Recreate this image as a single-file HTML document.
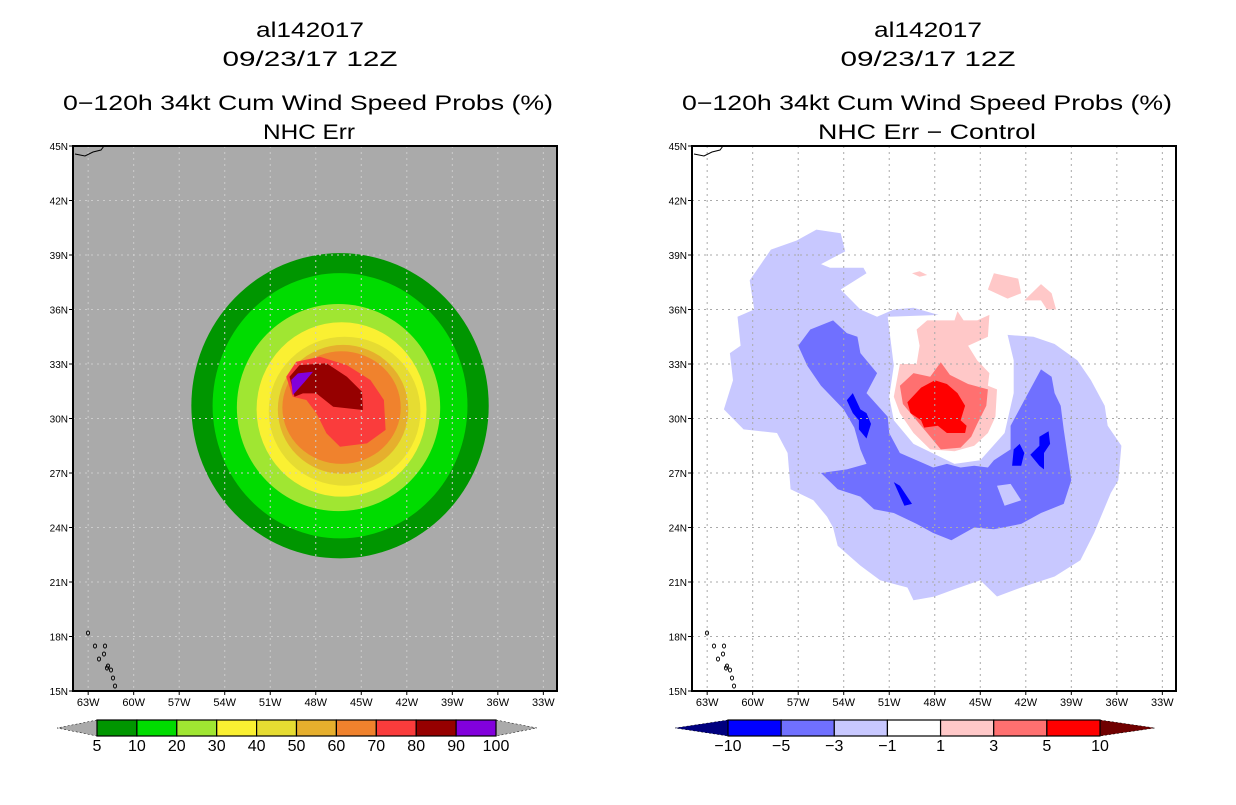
<!DOCTYPE html>
<html><head><meta charset="utf-8"><style>
body{margin:0;background:#fff;}
svg text{font-family:"Liberation Sans",sans-serif;}
</style></head><body>
<svg id="c" width="1236" height="800" xmlns="http://www.w3.org/2000/svg">
<g font-size="21" text-anchor="middle" fill="#000">
<text x="310" y="37" textLength="108" lengthAdjust="spacingAndGlyphs">al142017</text>
<text x="310" y="66" textLength="175" lengthAdjust="spacingAndGlyphs">09/23/17 12Z</text>
<text x="308" y="110" textLength="490" lengthAdjust="spacingAndGlyphs">0−120h 34kt Cum Wind Speed Probs (%)</text>
<text x="309" y="139" textLength="92" lengthAdjust="spacingAndGlyphs">NHC Err</text>
</g>
<g font-size="21" text-anchor="middle" fill="#000">
<text x="928" y="37" textLength="108" lengthAdjust="spacingAndGlyphs">al142017</text>
<text x="928" y="66" textLength="175" lengthAdjust="spacingAndGlyphs">09/23/17 12Z</text>
<text x="927" y="110" textLength="490" lengthAdjust="spacingAndGlyphs">0−120h 34kt Cum Wind Speed Probs (%)</text>
<text x="927" y="139" textLength="218" lengthAdjust="spacingAndGlyphs">NHC Err − Control</text>
</g>
</svg>
<script>
// ---- data ----
const lonTicks=[63,60,57,54,51,48,45,42,39,36,33];
const latTicks=[15,18,21,24,27,30,33,36,39,42,45];
const probLevels=["5","10","20","30","40","50","60","70","80","90","100"];
const probColors=["#009600","#00dc00","#a0e632","#faf032","#e6dc32","#e6af2d","#f0822d","#fa3c3c","#960000","#8200dc"];
const diffLevels=["−10","−5","−3","−1","1","3","5","10"];
const diffColors=["#0000ff","#7070ff","#c8c8ff","#ffffff","#ffc8c8","#ff7070","#ff0000"];
// ellipse contours [lonW, lat, rxDeg, ryDeg] for 5..60%
const probEllipses=[[46.4,30.7,9.8,8.4],[46.4,30.7,8.4,7.3],[46.5,30.6,6.7,5.7],[46.3,30.5,5.6,4.8],[46.1,30.4,5.0,4.1],[46.2,30.5,4.3,3.55],[46.3,30.6,3.9,3.1]];
const prob70=[[49.95,32.3],[49.29,33.12],[47.73,33.4],[45.95,32.94],[44.4,32.12],[43.51,31.02],[43.4,29.37],[44.62,28.63],[46.4,28.45],[47.29,29.18],[47.95,30.28],[48.62,31.02],[49.51,31.2]];
const prob80=[[49.73,32.3],[49.07,32.94],[47.29,33.04],[45.95,32.3],[44.95,31.47],[44.89,30.47],[46.85,30.65],[47.96,31.38],[48.85,31.38],[49.4,31.2]];
const prob90=[[49.62,32.12],[49.18,32.48],[48.18,32.57],[48.73,32.02],[49.51,31.29]];
const diffLight=[[61.9,30.5],[61.3,32.1],[61.5,33.6],[60.8,34.0],[61.0,35.6],[59.9,36.0],[60.2,37.6],[58.8,39.3],[57.1,39.8],[55.8,40.4],[54.2,40.2],[53.9,39.2],[55.5,38.5],[54.9,38.3],[52.7,38.3],[52.5,38.0],[54.2,37.1],[52.9,36.0],[51.8,35.6],[50.7,36.0],[49.4,36.1],[43.2,34.6],[41.5,34.5],[40.1,34.1],[38.6,33.2],[37.7,32.1],[36.8,30.7],[36.6,29.6],[35.7,28.5],[35.9,26.6],[36.4,25.9],[37.5,23.7],[38.4,22.2],[40.1,21.3],[42.3,20.7],[43.9,20.2],[45.0,21.1],[46.7,20.6],[48.0,20.2],[49.4,20.0],[49.8,20.7],[51.6,21.1],[52.9,21.9],[54.4,23.0],[54.7,24.0],[55.1,24.6],[56.0,25.5],[57.5,26.1],[57.7,28.1],[58.4,29.2],[60.6,29.4]];
const diffHole=[[51.1,35.6],[50.7,32.9],[51.0,31.2],[50.7,29.9],[49.4,28.6],[46.7,27.5],[45.0,27.7],[43.4,29.2],[42.8,31.4],[42.8,33.2],[43.2,34.6],[44.5,35.8]];
const diffMedium=[[57.0,34.0],[56.2,34.9],[54.7,35.4],[53.8,34.7],[53.1,34.5],[52.9,33.6],[51.8,32.5],[52.5,31.4],[51.1,30.1],[51.0,29.2],[50.3,28.1],[49.2,27.7],[48.1,27.3],[47.2,27.5],[46.3,27.3],[45.4,27.4],[44.5,27.3],[44.1,27.7],[43.0,28.3],[43.0,29.6],[42.1,31.0],[41.0,32.7],[40.3,32.3],[40.1,31.4],[39.7,30.7],[39.5,29.4],[39.2,27.7],[39.0,26.6],[39.5,25.3],[41.0,24.8],[42.3,24.2],[44.1,23.9],[45.4,24.0],[46.9,23.3],[48.1,23.7],[49.2,24.2],[50.7,24.8],[52.0,25.0],[52.9,25.7],[54.4,26.1],[55.5,27.0],[53.8,27.2],[52.5,27.5],[52.9,28.3],[53.3,29.5],[54.0,30.5],[55.5,31.8],[56.4,32.9]];
const diffLightPatch=[[43.9,26.3],[43.0,26.4],[42.3,25.5],[43.4,25.2]];
const diffDarkA=[[53.8,31.0],[53.4,31.4],[52.9,30.5],[52.5,30.3],[52.2,29.7],[52.5,28.9],[53.0,29.4],[53.0,29.9],[53.4,30.3]];
const diffDarkB=[[50.7,26.5],[50.3,26.3],[49.5,25.3],[50.0,25.2]];
const diffDarkC=[[42.8,28.3],[42.4,28.6],[42.1,28.1],[42.3,27.4],[42.9,27.4]];
const diffDarkD=[[41.1,29.0],[40.5,29.3],[40.4,28.6],[40.8,28.1],[40.8,27.2],[41.1,27.4],[41.7,28.0],[41.1,28.5]];
const diffPink=[[50.3,33.0],[49.2,33.0],[49.0,34.0],[49.2,34.9],[48.5,35.4],[46.7,35.4],[46.5,35.9],[46.1,35.4],[45.2,35.4],[44.4,35.7],[44.5,34.5],[45.8,34.0],[45.2,33.2],[44.4,32.5],[44.5,31.8],[43.9,31.6],[44.0,30.1],[44.5,29.2],[45.4,28.5],[46.7,28.2],[48.3,28.3],[49.4,29.2],[50.3,30.3],[50.7,31.2]];
const diffPinkSpot1=[[44.5,37.1],[44.1,38.0],[42.5,37.7],[42.3,36.9],[43.2,36.6]];
const diffPinkSpot2=[[42.1,36.5],[41.0,37.4],[40.3,36.9],[40.0,36.0],[40.6,36.0],[41.0,36.5]];
const diffPinkSpot3=[[49.5,38.0],[49.0,38.1],[48.5,37.9],[49.0,37.8]];
const diffSalmon=[[50.3,31.8],[49.4,32.5],[48.3,32.3],[47.6,33.1],[47.0,32.4],[45.8,31.9],[44.5,31.6],[44.6,30.7],[45.2,29.7],[45.6,29.0],[46.3,28.4],[47.6,28.3],[48.5,29.2],[49.4,30.1],[50.1,30.8]];
const diffRed=[[49.8,30.9],[48.9,31.7],[48.0,32.1],[47.2,31.9],[46.5,31.4],[46.0,30.7],[46.3,29.9],[45.9,29.6],[46.0,29.2],[47.2,29.2],[47.8,29.6],[48.7,29.5],[48.9,29.9],[49.6,30.3]];
// ---- rendering ----
const NS="http://www.w3.org/2000/svg";
const svg=document.getElementById('c');
const W=484,H=545,PY=146,LON0=64,LON1=32.1,LAT0=15,LAT1=45;
function mk(t,a,p){const e=document.createElementNS(NS,t);for(const k in a)e.setAttribute(k,a[k]);(p||svg).appendChild(e);return e;}
function panel(px,bg,gridCol,name){
  const g=mk('g',{});
  
  
  const X=lon=>px+(LON0-lon)/(LON0-LON1)*W;
  const Y=lat=>PY+H-(lat-LAT0)/(LAT1-LAT0)*H;
  const bgr=mk('rect',{x:px,y:PY,width:W,height:H,fill:bg},g);
  
  
  const poly=(pts,fill,nm)=>{const e=mk('polygon',{points:pts.map(p=>X(p[0]).toFixed(1)+','+Y(p[1]).toFixed(1)).join(' '),fill:fill},g);
    
    return e;};
  const ell=(d,fill,nm)=>{const e=mk('ellipse',{cx:X(d[0]),cy:Y(d[1]),rx:d[2]/(LON0-LON1)*W,ry:d[3]/(LAT1-LAT0)*H,fill:fill},g);
    
    };
  return {g,X,Y,poly,ell,finish(){
    lonTicks.forEach(l=>{const x=X(l);
      mk('line',{x1:x,y1:PY,x2:x,y2:PY+H,stroke:gridCol,'stroke-width':1,'stroke-dasharray':'2,4'},g);
      mk('line',{x1:x,y1:PY+H,x2:x,y2:PY+H+4,stroke:'#000'},g);
      const t=mk('text',{x:x,y:PY+H+15,'font-size':11,'text-anchor':'middle'},g);t.textContent=l+'W';
      
      });
    latTicks.forEach(l=>{const y=Y(l);
      if(l>15&&l<45)mk('line',{x1:px,y1:y,x2:px+W,y2:y,stroke:gridCol,'stroke-width':1,'stroke-dasharray':'2,4'},g);
      mk('line',{x1:px-4,y1:y,x2:px,y2:y,stroke:'#000'},g);
      const t=mk('text',{x:px-5,y:y+4,'font-size':10,'text-anchor':'end'},g);t.textContent=l+'N';
      
      });
    mk('path',{d:`M${px+2} ${PY+8} L${px+12} ${PY+10} L${px+20} ${PY+6} L${px+28} ${PY+4} L${px+31} ${PY}`,fill:'none',stroke:'#000','stroke-width':1},g);
    [[15,487],[22,500],[26,513],[32,500],[31,508],[35,520],[38,524],[40,532],[42,540],[34,522]].forEach(c=>mk('ellipse',{cx:px+c[0],cy:PY+c[1],rx:1.6,ry:2,fill:'none',stroke:'#000','stroke-width':0.9},g));
    const fr=mk('rect',{x:px,y:PY,width:W,height:H,fill:'none',stroke:'#000','stroke-width':2},g);
    
    
  }};
}
const L=panel(73,'#aaaaaa','#cccccc','left-prob-map');
probEllipses.forEach((d,i)=>L.ell(d,probColors[i],'contour-'+probLevels[i]));
L.poly(prob70,probColors[7],'contour-70');
L.poly(prob80,probColors[8],'contour-80');
L.poly(prob90,probColors[9],'contour-90');
L.finish();
const R=panel(692,'#ffffff','#aaaaaa','right-diff-map');
R.poly(diffLight,diffColors[2],'diff-minus1-region');
R.poly(diffHole,'#ffffff','diff-neutral-region');
R.poly(diffMedium,diffColors[1],'diff-minus3-region');
R.poly(diffLightPatch,diffColors[2],'diff-minus1-patch');
[diffDarkA,diffDarkB,diffDarkC,diffDarkD].forEach(p=>R.poly(p,diffColors[0],'diff-minus5-spot'));
R.poly(diffPink,diffColors[4],'diff-plus1-region');
[diffPinkSpot1,diffPinkSpot2,diffPinkSpot3].forEach(p=>R.poly(p,diffColors[4],'diff-plus1-spot'));
R.poly(diffSalmon,diffColors[5],'diff-plus3-region');
R.poly(diffRed,diffColors[6],'diff-plus5-region');
R.finish();
function colorbar(x0,x1,tl,tr,cols,labels,lc,rc,name){
  const g=mk('g',{});
  
  
  const y0=720,y1=736,n=cols.length,w=(x1-x0)/n;
  mk('polygon',{points:`${x0},${y0} ${tl},${(y0+y1)/2} ${x0},${y1}`,fill:lc,stroke:'#000','stroke-width':0.5,'stroke-dasharray':'2,2'},g);
  mk('polygon',{points:`${x1},${y0} ${tr},${(y0+y1)/2} ${x1},${y1}`,fill:rc,stroke:'#000','stroke-width':0.5,'stroke-dasharray':'2,2'},g);
  cols.forEach((c,i)=>{const r=mk('rect',{x:x0+i*w,y:y0,width:w,height:y1-y0,fill:c,stroke:'#000','stroke-width':1.2},g);
    
    });
  labels.forEach((s,i)=>{const t=mk('text',{x:x0+i*w,y:751,'font-size':16,'text-anchor':'middle'},g);t.textContent=s;
    
    });
}
colorbar(97,496,57,537,probColors,probLevels,'#aaaaaa','#aaaaaa','prob-colorbar');
colorbar(728,1100,675,1155,diffColors,diffLevels,'#00007f','#700000','diff-colorbar');
</script>
</body></html>
